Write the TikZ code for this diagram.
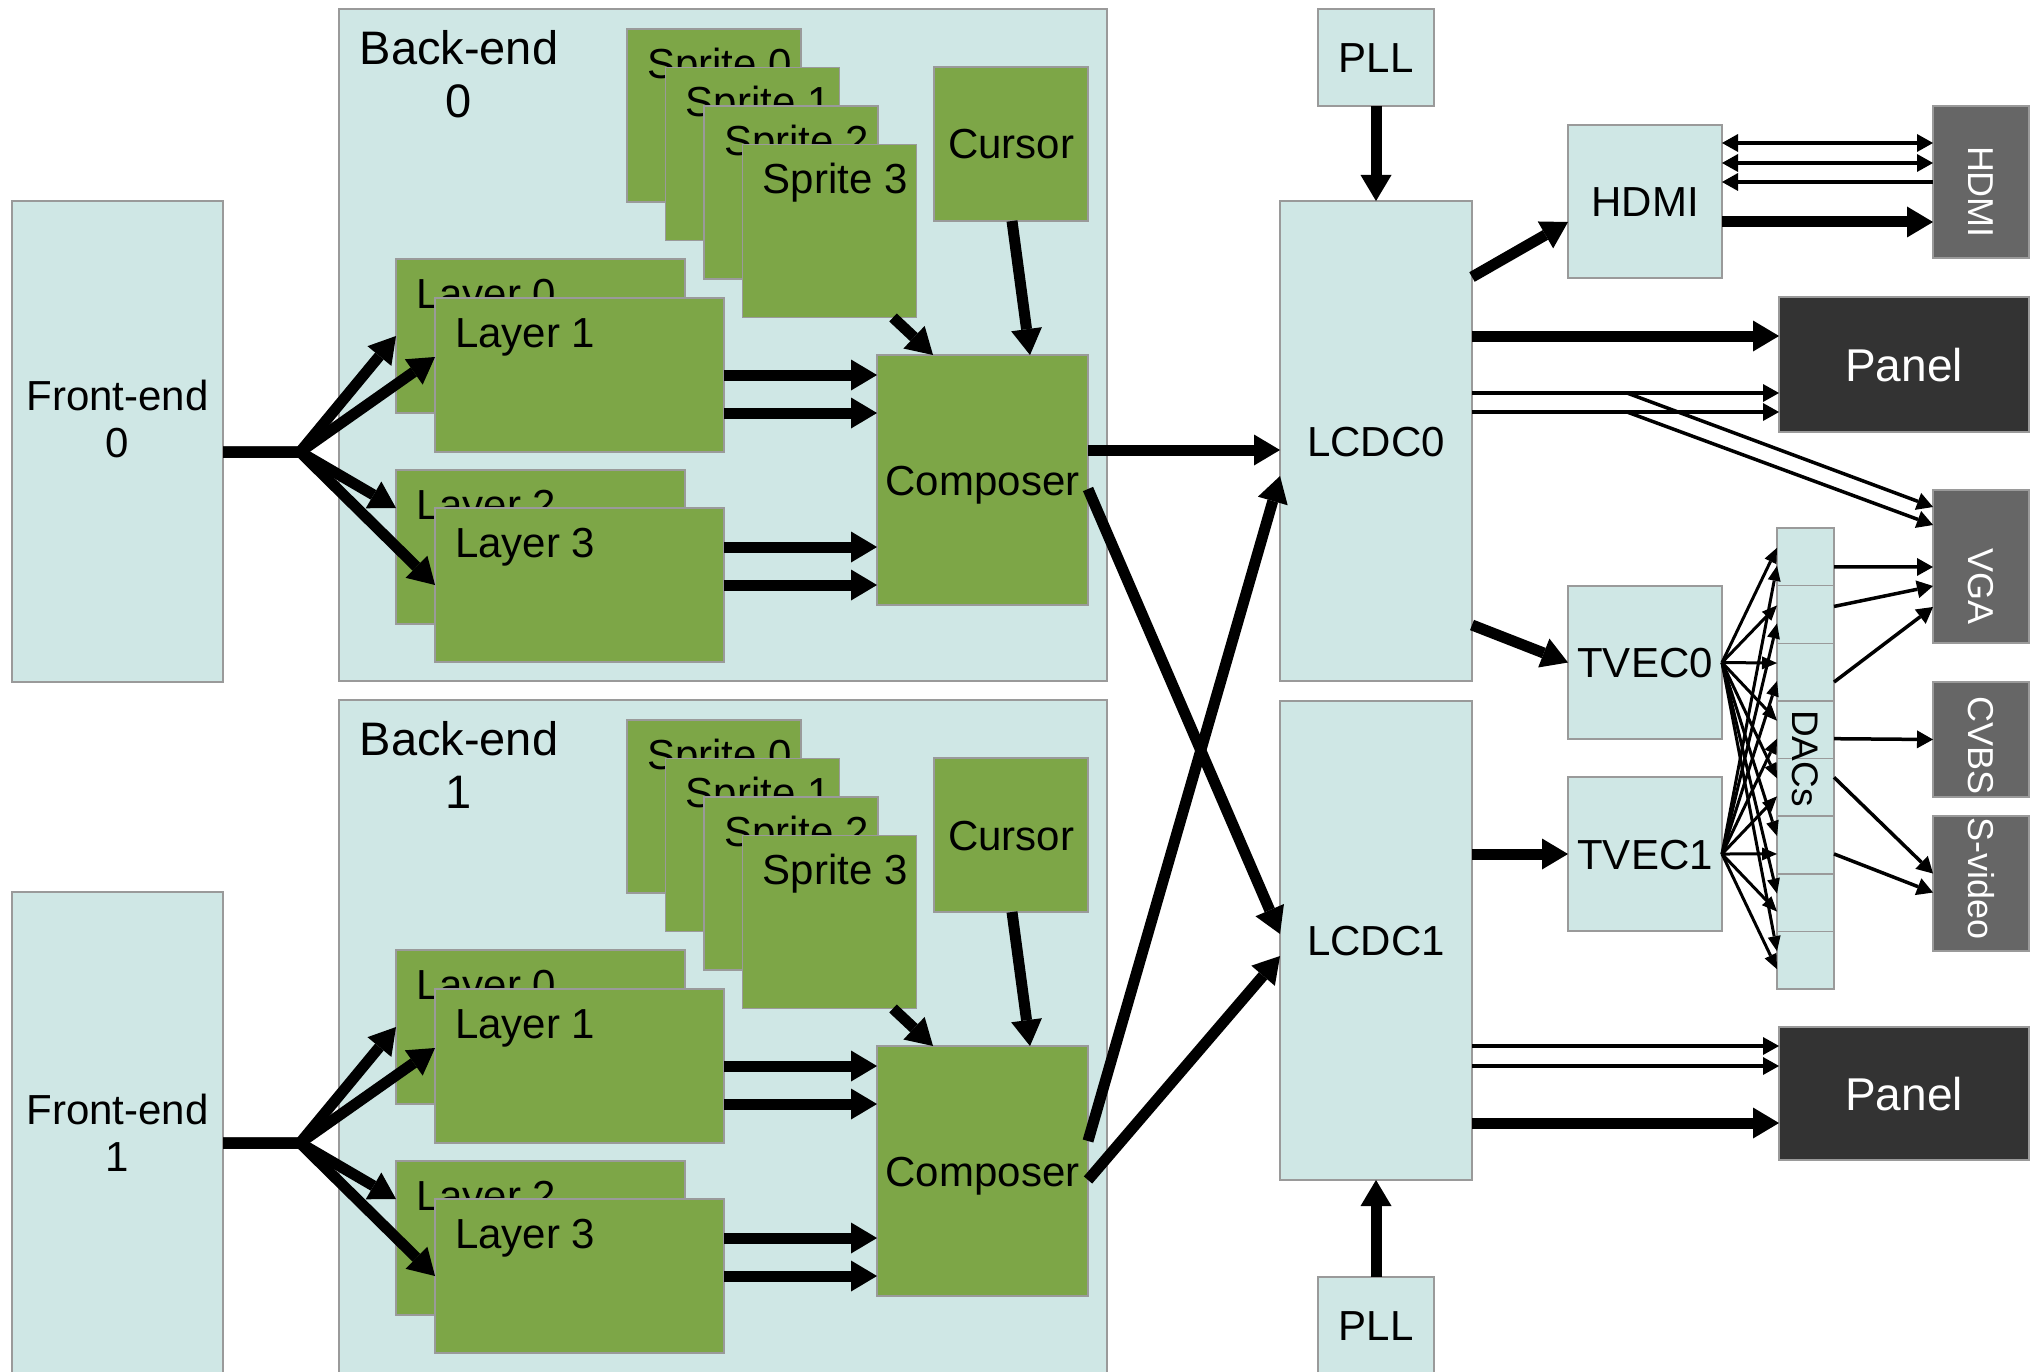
\documentclass[tikz,border=0pt]{standalone}
\usepackage{fontspec}
\setmainfont{Liberation Sans}
\usetikzlibrary{arrows.meta,calc}
\definecolor{lightc}{HTML}{CFE7E5}
\definecolor{greenc}{HTML}{7DA647}
\definecolor{bordc}{HTML}{9A9A9A}
\definecolor{connc}{HTML}{666666}
\definecolor{panelc}{HTML}{333333}
\newcommand\mainfs{\fontsize{42pt}{47pt}\selectfont}
\newcommand\bigfs{\fontsize{46pt}{53pt}\selectfont}
\newcommand\befs{\fontsize{47pt}{53pt}\selectfont}
\newcommand\connfs{\fontsize{36pt}{40pt}\selectfont}
\newcommand\dacfs{\fontsize{37pt}{42pt}\selectfont}
\newcommand\vtext[2]{\raisebox{#1}[\height][\depth]{\rotatebox{-90}{#2}}}
\begin{document}
\begin{tikzpicture}[x=1pt,y=-1pt,
  basebox/.style={draw=bordc, line width=1.5pt, inner sep=0pt, outer sep=0pt, anchor=north west},
  lbox/.style={basebox, fill=lightc, font=\mainfs, text height=30pt, text depth=0pt},
  gbox/.style={basebox, fill=greenc, font=\mainfs, text height=30pt, text depth=0pt},
  cbox/.style={basebox, fill=connc, text=white, font=\connfs},
  pbox/.style={basebox, fill=panelc, text=white, font=\bigfs, text height=33pt, text depth=0pt},
  lbl/.style={anchor=north west, inner sep=0pt, xshift=20pt, yshift=-19pt, font=\mainfs, text height=30pt, text depth=0pt},
  txt/.style={inner sep=0pt, align=center},
  fat/.style={line width=11pt, -{Triangle[length=26pt,width=31pt,line width=0pt]}},
  slim/.style={line width=3.5pt, -{Triangle[length=16pt,width=18pt,line width=0pt]}},
  slimboth/.style={line width=3.5pt, {Triangle[length=16pt,width=18pt,line width=0pt]}-{Triangle[length=16pt,width=18pt,line width=0pt]}},
  slimrev/.style={line width=3.5pt, {Triangle[length=16pt,width=18pt,line width=0pt]}-},
  fan/.style={line width=3pt, -{Triangle[length=15pt,width=13pt,line width=0pt]}}
]
\useasboundingbox (0,0) rectangle (2033,1372);
\clip (0,0) rectangle (2033,1372);
\fill[white] (0,0) rectangle (2033,1372);

% ---------- front-ends and back-ends ----------
\foreach \b/\dy/\beh/\fty in {0/0/672pt/418.5, 1/691/700pt/442}{
 \begin{scope}[shift={(0,\dy)}]
  \node[lbox, minimum width=211pt, minimum height=481pt] (fe\b) at (12,201) {};
  \node[txt, font=\mainfs] (fet\b) at (117.5,\fty) {Front-end\\\b};
  \node[lbox, minimum width=768pt, minimum height=\beh] (be\b) at (339,9) {};
  \node[txt, font=\befs] (bet\b) at (459,74) {Back-end\\\b};
  \foreach \s in {0,...,3}{
    \node[gbox, minimum width=174pt, minimum height=173pt,
          label={[lbl]north west:Sprite \s}] (sp\b\s) at ({627+38.5*\s},{29+38.5*\s}) {};
  }
  \node[gbox, minimum width=154pt, minimum height=154pt] (cu\b) at (934,67) {Cursor};
  \node[gbox, minimum width=289pt, minimum height=154pt, label={[lbl]north west:Layer 0}] (ly\b0) at (396,259) {};
  \node[gbox, minimum width=289pt, minimum height=154pt, label={[lbl]north west:Layer 1}] (ly\b1) at (435,298) {};
  \node[gbox, minimum width=289pt, minimum height=154pt, label={[lbl]north west:Layer 2}] (ly\b2) at (396,470) {};
  \node[gbox, minimum width=289pt, minimum height=154pt, label={[lbl]north west:Layer 3}] (ly\b3) at (435,508) {};
  \node[gbox, minimum width=211pt, minimum height=250pt] (co\b) at (877,355) {Composer};
  % fan from front-end to layers
  \coordinate (j\b) at (300,452);
  \coordinate (fo\b) at (fe\b.east |- j\b);
  \draw[fat] (fo\b) -- (j\b) -- (ly\b0.west);
  \draw[fat] (fo\b) -- (j\b) -- ([yshift=-59pt]ly\b1.north west);
  \draw[fat] (fo\b) -- (j\b) -- ([yshift=-38pt]ly\b2.north west);
  \draw[fat] (fo\b) -- (j\b) -- (ly\b3.west);
  % layers to composer
  \coordinate (la\b) at (ly\b1.east);
  \coordinate (lb\b) at ([yshift=-38pt]ly\b1.east);
  \coordinate (lc\b) at ([yshift=38pt]ly\b3.east);
  \coordinate (ld\b) at (ly\b3.east);
  \draw[fat] (la\b) -- (la\b -| co\b.west);
  \draw[fat] (lb\b) -- (lb\b -| co\b.west);
  \draw[fat] (lc\b) -- (lc\b -| co\b.west);
  \draw[fat] (ld\b) -- (ld\b -| co\b.west);
  % sprite and cursor to composer
  \draw[fat] ([xshift=-23.5pt]sp\b3.south east) -- ([xshift=56pt]co\b.north west);
  \draw[fat] ([xshift=1pt]cu\b.south) -- ([xshift=153pt]co\b.north west);
  % composer outputs
  \coordinate (coA\b) at ([yshift=-95pt]co\b.north east);
  \coordinate (coB\b) at ([yshift=-134pt]co\b.north east);
 \end{scope}
}

% ---------- LCDCs and PLLs ----------
\node[lbox, minimum width=192pt, minimum height=480pt] (lc0) at (1280,201) {LCDC0};
\node[lbox, minimum width=192pt, minimum height=479pt] (lc1) at (1280,701) {LCDC1};
\node[lbox, minimum width=116pt, minimum height=97pt] (pll0) at (1318,9) {PLL};
\node[lbox, minimum width=116pt, minimum height=97pt] (pll1) at (1318,1277) {PLL};
\draw[fat] (pll0.south) -- (lc0.north);
\draw[fat] (pll1.north) -- (lc1.south);

\draw[fat] (coA0) -- (coA0 -| lc0.west);
\draw[fat] (coB0) -- ([yshift=-233pt]lc1.north west);
\draw[fat] (coA1) -- ([yshift=-275pt]lc0.north west);
\draw[fat] (coB1) -- ([yshift=-255pt]lc1.north west);

% ---------- HDMI ----------
\node[lbox, minimum width=154pt, minimum height=153pt] (hd) at (1568,125) {HDMI};
\node[cbox, minimum width=96pt, minimum height=152pt] (hdc) at (1933,106) {\vtext{-10pt}{HDMI}};
\draw[fat] ([yshift=-76pt]lc0.north east) -- ([yshift=-97pt]hd.north west);
\coordinate (h0) at ([yshift=-97pt]hd.north east);
\coordinate (h1) at ([yshift=-18pt]hd.north east);
\coordinate (h2) at ([yshift=-38pt]hd.north east);
\coordinate (h3) at ([yshift=-57pt]hd.north east);
\draw[fat] (h0) -- (h0 -| hdc.west);
\draw[slimboth] (h1) -- (h1 -| hdc.west);
\draw[slimboth] (h2) -- (h2 -| hdc.west);
\draw[slimrev] (h3) -- (h3 -| hdc.west);

% ---------- Panels and connectors ----------
\node[pbox, minimum width=250pt, minimum height=135pt] (pa0) at (1779,297) {Panel};
\node[pbox, minimum width=250pt, minimum height=133pt] (pa1) at (1779,1027) {Panel};
\node[cbox, minimum width=96pt, minimum height=153pt] (vga) at (1933,490) {\vtext{-20pt}{VGA}};
\node[cbox, minimum width=96pt, minimum height=115pt] (cvbs) at (1933,682) {\vtext{-6pt}{CVBS}};
\node[cbox, minimum width=96pt, minimum height=135pt] (svid) at (1933,816) {\vtext{5pt}{S-video}};

\coordinate (p1) at ([yshift=-135pt]lc0.north east);
\coordinate (p2) at ([yshift=-192pt]lc0.north east);
\coordinate (p3) at ([yshift=-211pt]lc0.north east);
\coordinate (p2b) at ([xshift=155pt]p2);
\coordinate (p3b) at ([xshift=155pt]p3);
\draw[fat] (p1) -- (p1 -| pa0.west);
\draw[slim] (p2) -- (p2 -| pa0.west);
\draw[slim] (p3) -- (p3 -| pa0.west);
\draw[slim] (p2) -- (p2b) -- ([yshift=-17pt]vga.north west);
\draw[slim] (p3) -- (p3b) -- ([yshift=-35pt]vga.north west);

\coordinate (q1) at ([yshift=-345pt]lc1.north east);
\coordinate (q2) at ([yshift=-365pt]lc1.north east);
\coordinate (q3) at ([yshift=-422pt]lc1.north east);
\draw[slim] (q1) -- (q1 -| pa1.west);
\draw[slim] (q2) -- (q2 -| pa1.west);
\draw[fat] (q3) -- (q3 -| pa1.west);

% ---------- TV encoders and DACs ----------
\node[lbox, minimum width=154pt, minimum height=153pt] (tv0) at (1568,586) {TVEC0};
\node[lbox, minimum width=154pt, minimum height=154pt] (tv1) at (1568,777) {TVEC1};
\draw[fat] ([yshift=-424pt]lc0.north east) -- (tv0.west);
\draw[fat] (tv1.west -| lc1.east) -- (tv1.west);

\foreach \d in {1,...,8}{
  \node[lbox, minimum width=57pt, minimum height=57.625pt] (dac\d) at (1777,{528+57.625*(\d-1)}) {};
}
\node[rotate=-90, font=\dacfs, inner sep=0pt] (dact) at ($(dac1.north)!0.5!(dac8.south)$) {DACs};
\foreach \d in {1,...,8}{
  \draw[fan] (tv0.east) -- ([yshift=9pt]dac\d.west);
  \draw[fan] (tv1.east) -- ([yshift=-9pt]dac\d.west);
}
\draw[slim] ([yshift=-10pt]dac1.east) -- ([yshift=-77pt]vga.north west);
\draw[slim] ([yshift=8pt]dac2.east) -- ([yshift=-96pt]vga.north west);
\draw[slim] ([yshift=-10pt]dac3.east) -- ([yshift=-117pt]vga.north west);
\draw[slim] ([yshift=-9pt]dac4.east) -- (cvbs.west);
\draw[slim] ([yshift=10pt]dac5.east) -- ([yshift=10pt]svid.west);
\draw[slim] ([yshift=-9pt]dac6.east) -- ([yshift=-9pt]svid.west);
\end{tikzpicture}
\end{document}
